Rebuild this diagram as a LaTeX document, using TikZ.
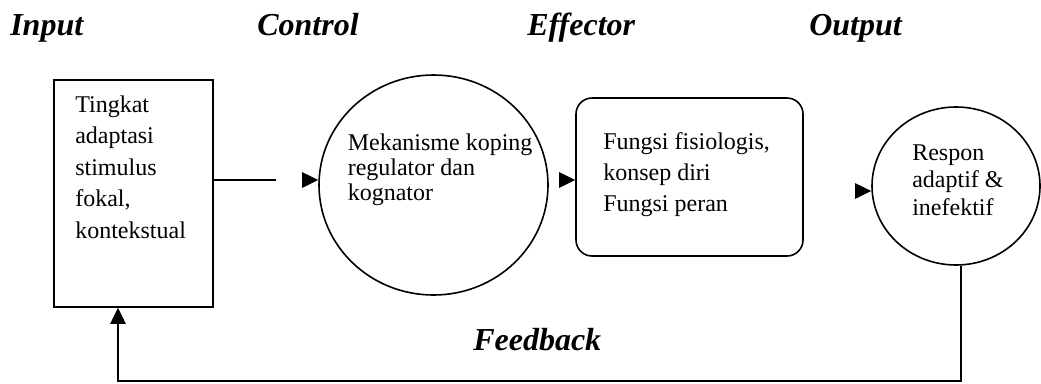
\documentclass[tikz,border=0pt]{standalone}
\usepackage{fontspec}
\setmainfont{Liberation Serif}
\usetikzlibrary{arrows.meta,shapes.geometric}
\begin{document}
\begin{tikzpicture}[x=0.75pt,y=-0.75pt,
  outline/.style={draw, line width=1.2pt, inner sep=0pt},
  head/.style={font=\fontsize{24}{28}\selectfont\bfseries\itshape, inner sep=0pt, anchor=base west},
  body/.style={align=left, inner sep=0pt, anchor=base west},
  arr/.style={-{Triangle[length=12pt,width=11.5pt]}, line width=1.2pt},
  plain/.style={line width=1.2pt}
]
\useasboundingbox (0,0) rectangle (1041,383);

% shapes
\node[outline, rectangle, minimum width=119.25pt, minimum height=170.25pt] (inbox) at (133.5,193.5) {};
\node[outline, ellipse, minimum width=171.75pt, minimum height=165pt] (ctrl) at (433.5,185) {};
\node[outline, rectangle, rounded corners=12pt, minimum width=170.25pt, minimum height=118.5pt] (eff) at (689.5,177) {};
\node[outline, ellipse, minimum width=126pt, minimum height=118.5pt] (out) at (956,186) {};

% texts inside shapes (anchor = baseline of last line)
\node[body, font=\fontsize{18}{23.6}\selectfont] (intext) at (75,238) {Tingkat\\adaptasi\\stimulus\\fokal,\\kontekstual};
\node[body, font=\fontsize{18}{18.75}\selectfont] (ctrltext) at (347.5,200) {Mekanisme koping\\regulator dan\\kognator};
\node[body, font=\fontsize{18}{23.25}\selectfont] (efftext) at (603,211) {Fungsi fisiologis,\\konsep diri\\Fungsi peran};
\node[body, font=\fontsize{18}{20.6}\selectfont] (outtext) at (912,215) {Respon\\adaptif \&\\inefektif};

% headings
\node[head] (hin) at (10,35) {Input};
\node[head] (hctl) at (257,35) {Control};
\node[head] (heff) at (527,35) {Effector};
\node[head] (hout) at (809,35) {Output};
\node[head] (hfb) at (473,350) {Feedback};

% connectors
\coordinate (gap1) at (276,180);
\coordinate (tip1) at (302,180);
\coordinate (tip2) at (560,180);
\coordinate (tip3) at (855,191);
\coordinate (fbR) at (961,381);
\coordinate (fbL) at (118,381);
\draw[plain] (inbox.east |- gap1) -- (gap1);
\draw[arr] (tip1) -- (ctrl.west |- tip1);
\draw[arr] (tip2) -- (eff.west |- tip2);
\draw[arr] (tip3) -- (out.west |- tip3);
\draw[arr] (fbR |- out.south) -- (fbR) -- (fbL) -- (fbL |- inbox.south);
\end{tikzpicture}
\end{document}
